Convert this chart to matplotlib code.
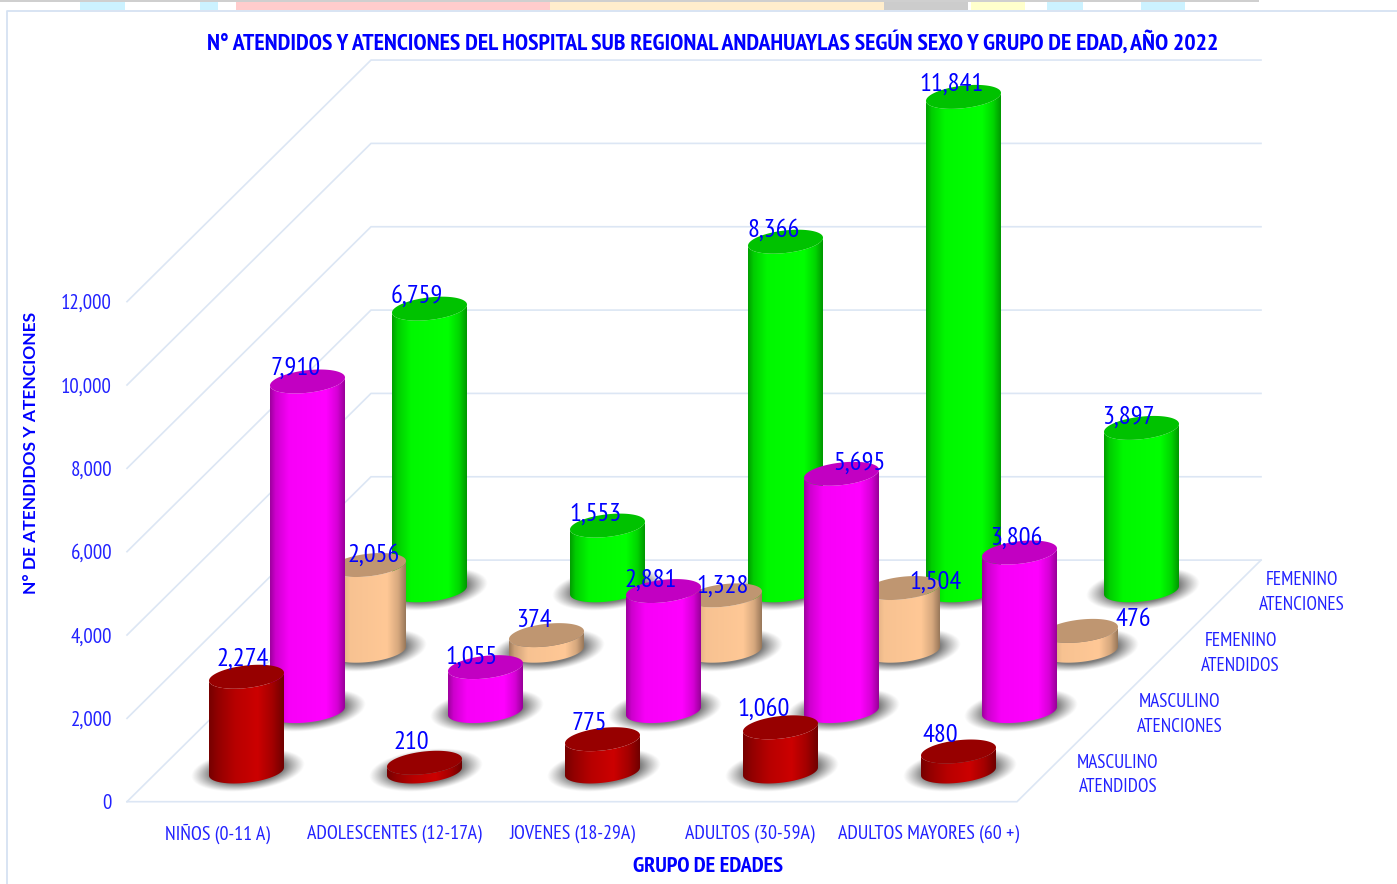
import numpy as np
import matplotlib
matplotlib.use("Agg")
import matplotlib.pyplot as plt
from matplotlib.path import Path
from matplotlib.patches import PathPatch, Rectangle, Polygon

# ---------- data ----------
categories = ["NIÑOS (0-11 A)", "ADOLESCENTES (12-17A)", "JOVENES (18-29A)",
              "ADULTOS (30-59A)", "ADULTOS MAYORES (60 +)"]
series_names = ["MASCULINO\nATENDIDOS", "MASCULINO\nATENCIONES",
                "FEMENINO\nATENDIDOS", "FEMENINO\nATENCIONES"]
masculino_atendidos = [2274, 210, 775, 1060, 480]
masculino_atenciones = [7910, 1055, 2881, 5695, 3806]
femenino_atendidos = [2056, 374, 1328, 1504, 476]
femenino_atenciones = [6759, 1553, 8366, 11841, 3897]
y_ticks = [0, 2000, 4000, 6000, 8000, 10000, 12000]
title = "N° ATENDIDOS Y ATENCIONES DEL HOSPITAL SUB REGIONAL ANDAHUAYLAS SEGÚN SEXO Y GRUPO DE EDAD, AÑO 2022"
y_title = "N° DE ATENDIDOS Y ATENCIONES"
x_title = "GRUPO DE EDADES"

# ---------- styles ----------
all_series = [masculino_atendidos, masculino_atenciones, femenino_atendidos, femenino_atenciones]
base_colors = [(204, 0, 0), (255, 0, 255), (255, 200, 150), (0, 255, 0)]
cap_factor = [0.74, 0.76, 0.75, 0.76]
BLUE = "#0000FF"
BLUE2 = "#2222FF"
GRID = "#DCE6F4"
NARROW = ["PT Sans Narrow", "Open Sans Condensed", "Open Sans"]
# label offset from the bar's top centre (pixels), by series then category
label_dx = [[-4, -13, -13, -17, -18], [-12, -14, -13, 18, -3],
            [5, -13, -2, 33, 53], [-13, -12, -12, -12, -13]]
label_dy = [[-17, -20, -16, -18, -16], [-13, -10, -11, -11, -14],
            [-10, -15, -9, -6, -11], [-12, -11, -11, -13, -11]]

# ---------- projection (category i, series j, value v) -> canvas ----------
X0, DX_CAT, DX_SER = 246.5, 178.0, 61.0
Y0, DY_SER, PX_PER_UNIT = 771.5, 60.4, 0.04167
RX, RY, TILT = 37.5, 11.3, 4.0


def project(i, j, v=0.0):
    return X0 + DX_CAT * i + DX_SER * j, Y0 - DY_SER * j - PX_PER_UNIT * v


fig = plt.figure(figsize=(13.97, 8.84), dpi=100, facecolor="white")
ax = fig.add_axes([0, 0, 1, 1])
ax.set_axis_off()
ax.set_autoscale_on(False)
ax.set_xlim(0, 1397)
ax.set_ylim(884, 0)

# browser remnants on top, chart border
ax.add_patch(Rectangle((0, 0), 1259, 2, fc="#CFCFCF", ec="none"))
for x0, x1, c in [(80, 125, "#CCF2FF"), (200, 218, "#CCF2FF"), (236, 550, "#FFCCCC"),
                  (550, 884, "#FFEDCC"), (884, 968, "#CCCCCC"), (971, 1025, "#FFFFCC"),
                  (1047, 1083, "#CCF2FF"), (1141, 1185, "#CCF2FF")]:
    ax.add_patch(Rectangle((x0, 2), x1 - x0, 8, fc=c, ec="none"))
ax.plot([7, 7, 1397], [884, 11, 11], color="#D5E2F2", lw=1.3)

# walls and floor
LO_I, HI_I, LO_J, HI_J = -0.5, 4.5, -0.5, 3.5
for v in y_ticks:
    a = project(LO_I, LO_J, v)
    b = project(LO_I, HI_J, v)
    c = project(HI_I, HI_J, v)
    ax.plot([a[0], b[0], c[0]], [a[1], b[1], c[1]], color=GRID, lw=1.2, zorder=1)
f0, f1, f2 = project(LO_I, LO_J), project(HI_I, LO_J), project(HI_I, HI_J)
ax.plot([f0[0], f1[0], f2[0]], [f0[1], f1[1], f2[1]], color=GRID, lw=1.2, zorder=1)

# gradient across a cylinder (the red ones shade more gradually)
tt = np.linspace(0, 1, 128)
stops = [([0.0, 0.07, 0.25, 0.75, 0.90, 1.0], [0.62, 0.80, 0.97, 1.0, 0.84, 0.60]),
         ([0.0, 0.12, 0.35, 0.65, 0.85, 1.0], [0.58, 0.72, 0.90, 1.0, 0.80, 0.55])]


def arc(cx, cy, t0, t1, n=60):
    t = np.linspace(t0, t1, n)
    return np.column_stack([cx + RX * np.cos(t), cy - TILT * np.cos(t) + RY * np.sin(t)])


def draw_shadow(cx, cy, z):
    yy, xx = np.mgrid[-26:26:104j, -62:62:248j]
    yy2 = yy + xx * (TILT / RX)
    r = np.sqrt((xx / 57.0) ** 2 + (yy2 / 21.0) ** 2)
    alpha = np.clip((1 - r) / 0.36, 0, 1) ** 1.1 * 0.80
    img = np.zeros(alpha.shape + (4,))
    img[..., :3] = 0.36
    img[..., 3] = alpha
    ax.imshow(img, extent=(cx + 1 - 62, cx + 1 + 62, cy + 26 - 1, cy - 26 - 1), aspect="auto",
              interpolation="bilinear", zorder=z)


def draw_cylinder(i, j, v, z):
    (cx, y_base), (_, y_top) = project(i, j), project(i, j, v)
    draw_shadow(cx, y_base, z)
    low = arc(cx, y_base, np.pi, 0)
    top = arc(cx, y_top, 0, np.pi)
    body = PathPatch(Path(np.vstack([low, top, low[:1]])), fc="none", ec="none",
                     transform=ax.transData, zorder=z + 0.1)
    ax.add_patch(body)
    rgb = np.array(base_colors[j]) / 255.0
    st, sf = stops[1 if j == 0 else 0]
    ff = np.interp(tt, st, sf)
    grad = np.clip(ff[None, :, None] * rgb[None, None, :], 0, 1)
    im = ax.imshow(grad, extent=(cx - RX, cx + RX, y_base + 14, y_top - 14), aspect="auto",
                   interpolation="bilinear", zorder=z + 0.1)
    im.set_clip_path(body)
    cap = Polygon(arc(cx, y_top, 0, 2 * np.pi, 120), closed=True,
                  fc=tuple(rgb * cap_factor[j]), ec="none", zorder=z + 0.2)
    ax.add_patch(cap)


for j in range(3, -1, -1):
    for i, v in enumerate(all_series[j]):
        z = 10 + (3 - j) * 3 + i * 0.5
        draw_cylinder(i, j, v, z)

# value labels
for j, vals in enumerate(all_series):
    for i, v in enumerate(vals):
        x, y = project(i, j, v)
        ax.text(x + label_dx[j][i], y + label_dy[j][i], f"{v:,}", color=BLUE,
                family=NARROW, fontsize=19, ha="center", va="center", zorder=40)

# axis tick labels
for v in y_ticks:
    x, y = project(LO_I, LO_J, v)
    ax.text(112, y + 2, f"{v:,}", color=BLUE2, family=NARROW, fontsize=15,
            ha="right", va="center", zorder=40)
for i, name in enumerate(categories):
    ax.text([217, 394, 572, 750, 929][i], 834, name, color=BLUE2, family=NARROW, fontsize=14.3,
            ha="center", va="center", zorder=40)
for j, name in enumerate(series_names):
    ax.text(1118 + 61.3 * j, 775 - 60.8 * j, name, color=BLUE2, family=NARROW, fontsize=13.8,
            ha="center", va="center", linespacing=1.48, zorder=40)

# titles
ax.text(713, 42.5, title, color=BLUE, family=NARROW, fontsize=17.15, weight="bold",
        ha="center", va="center", zorder=40)
ax.text(708, 867, x_title, color=BLUE, family=NARROW, fontsize=16, weight="bold",
        ha="center", va="center", zorder=40)
ax.text(31, 453, y_title, color=BLUE, family=["Lato", "Open Sans", "DejaVu Sans"], fontsize=12.5,
        weight="bold", rotation=90, ha="center", va="center", zorder=40)

fig.savefig("out.png", dpi=100, facecolor="white")
